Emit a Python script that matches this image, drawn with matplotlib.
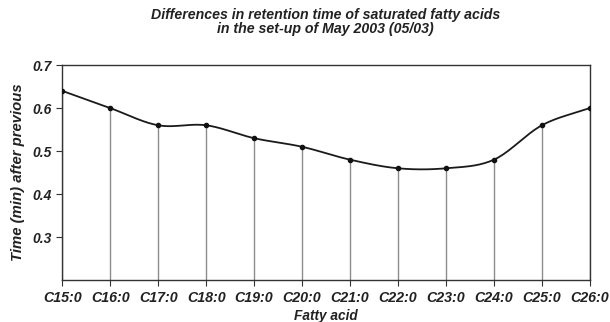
import numpy as np
import matplotlib
matplotlib.use("Agg")
import matplotlib.pyplot as plt

categories = ["C15:0", "C16:0", "C17:0", "C18:0", "C19:0", "C20:0",
              "C21:0", "C22:0", "C23:0", "C24:0", "C25:0", "C26:0"]
values = [0.64, 0.60, 0.56, 0.56, 0.53, 0.51, 0.48, 0.46, 0.46, 0.48, 0.56, 0.60]
yticks = [0.3, 0.4, 0.5, 0.6, 0.7]

FONT = "Liberation Sans"

def smooth(x, y, n=20):
    # Catmull-Rom rendering of the line between the data points (Excel-like smoothing)
    x = np.asarray(x, float); y = np.asarray(y, float)
    px = np.concatenate([[2*x[0]-x[1]], x, [2*x[-1]-x[-2]]])
    py = np.concatenate([[2*y[0]-y[1]], y, [2*y[-1]-y[-2]]])
    xs, ys = [], []
    for i in range(1, len(px)-2):
        t = np.linspace(0, 1, n, endpoint=False)
        for arr, out in ((px, xs), (py, ys)):
            p0, p1, p2, p3 = arr[i-1], arr[i], arr[i+1], arr[i+2]
            out.extend(0.5*((2*p1) + (-p0+p2)*t + (2*p0-5*p1+4*p2-p3)*t**2 + (-p0+3*p1-3*p2+p3)*t**3))
    xs.append(x[-1]); ys.append(y[-1])
    return np.array(xs), np.array(ys)

fig = plt.figure(figsize=(6.10, 3.22), dpi=100)
ax = fig.add_axes([0.102, 0.130, 0.865, 0.668])
x = np.arange(len(categories))
ax.vlines(x, 0.2, values, colors="#8c8c8c", linewidth=1.0, zorder=1)
sx, sy = smooth(x, values)
ax.plot(sx, sy, color="#1a1a1a", linewidth=1.3, zorder=2)
ax.plot(x, values, "o", color="#111111", markersize=3, zorder=3)

ax.set_xlim(x[0], x[-1])
ax.set_ylim(0.2, 0.7)
ax.set_yticks(yticks)
ax.set_yticklabels([f"{v:.1f}" for v in yticks])
ax.set_xticks(x)
ax.set_xticklabels(categories)
for s in ax.spines.values():
    s.set_color("#333333"); s.set_linewidth(1.0)
ax.tick_params(direction="out", length=4, color="#333333")
for lab in ax.get_xticklabels():
    lab.set_fontsize(10.3)
for lab in ax.get_yticklabels():
    lab.set_fontsize(10)
for lab in ax.get_xticklabels() + ax.get_yticklabels():
    lab.set_fontfamily(FONT); lab.set_fontweight("bold"); lab.set_fontstyle("italic")
    lab.set_color("#222222")

ax.set_xlabel("Fatty acid", fontfamily=FONT, fontweight="bold", fontstyle="italic",
              fontsize=9.8, color="#222222", labelpad=3.5)
ax.set_ylabel("Time (min) after previous", fontfamily=FONT, fontweight="bold",
              fontstyle="italic", fontsize=10.7, color="#222222", labelpad=5)
fig.text(0.533, 0.975, "Differences in retention time of saturated fatty acids\nin the set-up of May 2003 (05/03)",
         ha="center", va="top", fontfamily=FONT, fontweight="bold", fontstyle="italic",
         fontsize=10.2, color="#222222", linespacing=1.0)

fig.savefig("out.png", dpi=100)
